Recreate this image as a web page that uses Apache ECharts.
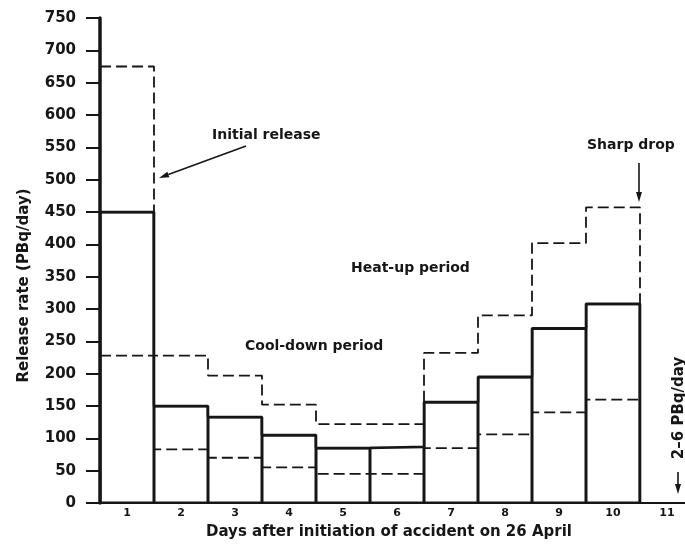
<!DOCTYPE html>
<html>
<head>
<meta charset="utf-8">
<script src="https://cdn.jsdelivr.net/npm/echarts@6/dist/echarts.min.js"></script>
<style>
  html, body { margin: 0; padding: 0; background: #fff; }
  #chart { width: 685px; height: 547px; }
</style>
</head>
<body>
<div id="chart"></div>
<script>
// release rate by day (PBq/day)
const days = ['1', '2', '3', '4', '5', '6', '7', '8', '9', '10', '11']
const central = [450, 150, 133, 105, 85, 87, 156, 195, 270, 308]
const upper = [675, 228, 197, 152, 122, 122, 232, 290, 402, 457]
const lower = [228, 83, 70, 55, 45, 45, 85, 106, 140, 160]
const yMin = 0
const yMax = 750
const yStep = 50

const ink = '#161616'
const font = 'DejaVu Sans'

// day i spans [i-1, i] on the hidden value axis
function steps (arr, drop) {
  const pts = arr.map((v, i) => [i, v])
  pts.push([arr.length, arr[arr.length - 1]])
  if (drop) pts.push([arr.length, 0])
  return pts
}

function label (text, x, y, size) {
  return {
    type: 'text',
    x: x,
    y: y,
    style: {
      text: text,
      fill: ink,
      fontFamily: font,
      fontWeight: 'bold',
      fontSize: size || 14,
      align: 'left',
      verticalAlign: 'middle'
    }
  }
}

function arrow (x1, y1, x2, y2) {
  const dx = x2 - x1
  const dy = y2 - y1
  const len = Math.sqrt(dx * dx + dy * dy)
  const ux = dx / len
  const uy = dy / len
  const bx = x2 - ux * 10
  const by = y2 - uy * 10
  return [{
    type: 'line',
    shape: { x1: x1, y1: y1, x2: bx, y2: by },
    style: { stroke: ink, lineWidth: 1.6 }
  }, {
    type: 'polygon',
    shape: { points: [[x2, y2], [bx - uy * 3, by + ux * 3], [bx + uy * 3, by - ux * 3]] },
    style: { fill: ink }
  }]
}

const dashed = [11, 5]
const chart = echarts.init(document.getElementById('chart'))

chart.setOption({
  backgroundColor: '#fff',
  animation: false,
  grid: { left: 100, top: 18, width: 594, height: 485, outerBoundsMode: 'none' },
  xAxis: [{
    type: 'category',
    data: days,
    boundaryGap: true,
    axisLine: { lineStyle: { color: ink, width: 2 } },
    axisTick: { length: 5, lineStyle: { color: ink, width: 1.5 } },
    axisLabel: { color: ink, fontFamily: font, fontWeight: 'bold', fontSize: 11, margin: 5 },
    name: 'Days after initiation of accident on 26 April',
    nameLocation: 'middle',
    nameGap: 22,
    nameTextStyle: { color: ink, fontFamily: font, fontWeight: 'bold', fontSize: 15, padding: [0, 16, 0, 0] }
  }, {
    type: 'value',
    min: 0,
    max: days.length,
    show: false
  }],
  yAxis: {
    type: 'value',
    min: yMin,
    max: yMax,
    interval: yStep,
    splitLine: { show: false },
    axisLine: { show: true, lineStyle: { color: ink, width: 3.5 } },
    axisTick: { show: true, length: 14, lineStyle: { color: ink, width: 2 } },
    axisLabel: { color: ink, fontFamily: font, fontWeight: 'bold', fontSize: 15, margin: 24 },
    name: 'Release rate (PBq/day)',
    nameLocation: 'middle',
    nameGap: 68,
    nameTextStyle: { color: ink, fontFamily: font, fontWeight: 'bold', fontSize: 15, padding: [0, 50, 0, 0] }
  },
  series: [{
    type: 'bar',
    data: central,
    barCategoryGap: 0,
    silent: true,
    itemStyle: { color: 'rgba(0,0,0,0)', borderColor: ink, borderWidth: 1.5 },
    z: 1
  }, {
    type: 'line',
    xAxisIndex: 1,
    data: steps(upper, true),
    step: 'end',
    showSymbol: false,
    silent: true,
    lineStyle: { color: ink, width: 1.8, type: dashed },
    z: 2
  }, {
    type: 'line',
    xAxisIndex: 1,
    data: steps(lower, false),
    step: 'end',
    showSymbol: false,
    silent: true,
    lineStyle: { color: ink, width: 1.8, type: dashed },
    z: 2
  }, {
    type: 'line',
    xAxisIndex: 1,
    data: steps(central, true),
    step: 'end',
    showSymbol: false,
    silent: true,
    lineStyle: { color: ink, width: 2.6 },
    z: 3
  }],
  graphic: [
    label('Initial release', 212, 135),
    label('Heat-up period', 351, 268),
    label('Cool-down period', 245, 346),
    label('Sharp drop', 587, 145),
    {
      type: 'text',
      x: 679,
      y: 408,
      rotation: Math.PI / 2,
      style: {
        text: '2–6 PBq/day',
        fill: ink,
        fontFamily: font,
        fontWeight: 'bold',
        fontSize: 15,
        align: 'center',
        verticalAlign: 'middle'
      }
    }
  ]
    .concat(arrow(246, 146, 159, 178))
    .concat(arrow(639, 163, 639, 202))
    .concat(arrow(678, 472, 678, 494))
})
</script>
</body>
</html>
